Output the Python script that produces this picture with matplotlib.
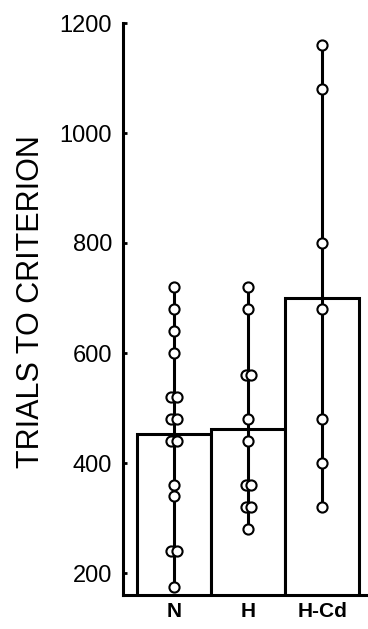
import matplotlib
matplotlib.use("Agg")
import matplotlib.pyplot as plt
import numpy as np

plt.rcParams['font.family'] = ['Liberation Sans', 'DejaVu Sans']

categories = ["N", "H", "H-Cd"]
bar_means = [452, 462, 700]
n_values = [720, 680, 640, 600, 520, 520, 480, 480, 440, 440, 360, 340, 240, 240, 175]
h_values = [720, 680, 560, 560, 480, 440, 360, 360, 320, 320, 280]
hcd_values = [1160, 1080, 800, 680, 480, 400, 320]
yticks = [200, 400, 600, 800, 1000, 1200]

fig = plt.figure(figsize=(3.68, 6.29), dpi=100)
ax = fig.add_axes([123/368, 1 - 595/629, 1 - 123/368, (595 - 23)/629])

x = np.arange(len(categories))
ax.bar(x, bar_means, width=1.0, bottom=0, facecolor='white', edgecolor='black',
       linewidth=2.2, zorder=1)

groups = [n_values, h_values, hcd_values]
for i, vals in enumerate(groups):
    ax.plot([i, i], [min(vals), max(vals)], color='black', lw=2.2, zorder=2,
            solid_capstyle='butt')
    seen = {}
    for v in vals:
        seen[v] = seen.get(v, 0) + 1
    cnt = {}
    xs = []
    for v in vals:
        if seen[v] > 1:
            k = cnt.get(v, 0)
            cnt[v] = k + 1
            xs.append(i + (-0.035 if k == 0 else 0.035))
        else:
            xs.append(i)
    ax.plot(xs, vals, linestyle='none', marker='o', markersize=7.3,
            markerfacecolor='white', markeredgecolor='black', markeredgewidth=1.5,
            zorder=3)

ax.set_xlim(-0.69, 2.62)
ax.set_ylim(160, 1200)
ax.set_yticks(yticks)
ax.set_yticklabels([str(t) for t in yticks], fontsize=17)
ax.set_xticks(x)
ax.set_xticklabels(categories, fontsize=15, fontweight='bold')
ax.tick_params(axis='y', direction='in', length=3, width=2, pad=8)
ax.tick_params(axis='x', length=0, pad=5)
for s in ['top', 'right']:
    ax.spines[s].set_visible(False)
for s in ['left', 'bottom']:
    ax.spines[s].set_linewidth(2.2)
ax.set_ylabel("TRIALS TO CRITERION", fontsize=22)
ax.yaxis.set_label_coords(-0.314, 0.513)

fig.savefig("out.png", dpi=100)
